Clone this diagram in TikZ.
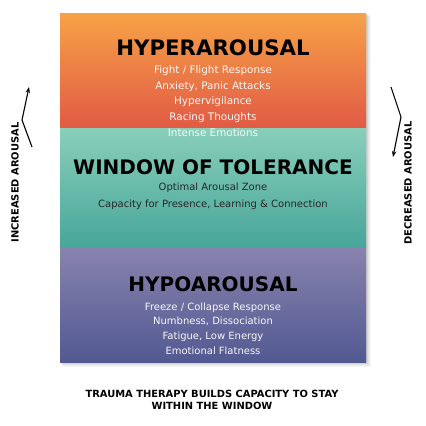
\documentclass[tikz,border=0pt]{standalone}
\usepackage{fontspec}
\setmainfont{DejaVu Sans}
\usetikzlibrary{arrows.meta}
\definecolor{hypertop}{HTML}{F7A247}
\definecolor{hyperbot}{HTML}{E15A45}
\definecolor{wintop}{HTML}{89CFBA}
\definecolor{winbot}{HTML}{48A69A}
\definecolor{hypotop}{HTML}{8983AE}
\definecolor{hypobot}{HTML}{525991}
\begin{document}
\begin{tikzpicture}[x=1pt,y=-1pt,
  band/.style={inner sep=0pt,outer sep=0pt,minimum width=306pt,draw=none},
  bigtitle/.style={inner sep=0pt,anchor=base,font=\fontsize{20}{24}\selectfont\bfseries,text=black},
  lightline/.style={inner sep=0pt,anchor=base,font=\fontsize{10}{12}\selectfont,text=white!94!gray},
  darkline/.style={inner sep=0pt,anchor=base,font=\fontsize{10}{12}\selectfont,text=black!85},
  sidelabel/.style={inner sep=0pt,font=\fontsize{9.9}{11}\selectfont\bfseries,text=black,rotate=90},
  bottomlabel/.style={inner sep=0pt,align=center,font=\fontsize{9.9}{11.7}\selectfont\bfseries,text=black},
  arrowline/.style={line width=1.1pt,-{Stealth[length=6pt,width=4.5pt]}}]
\useasboundingbox (0,0) rectangle (426,426);
% shadow
\foreach \d/\o in {1/0.06,2/0.06,3/0.05,4/0.04,5/0.03}{
  \fill[black,opacity=\o] (60+\d*0.6,13+\d*0.6) rectangle (366+\d,362+\d);
}
% bands
\node[band,minimum height=115pt,top color=hypertop,bottom color=hyperbot] (hyper) at (213,70.5) {};
\node[band,minimum height=119pt,top color=wintop,bottom color=winbot] (window) at (213,187.5) {};
\node[band,minimum height=115pt,top color=hypotop,bottom color=hypobot] (hypo) at (213,304.5) {};
% hyper texts
\node[bigtitle,font=\fontsize{21.3}{24}\selectfont\bfseries] (ht) at (213,55) {HYPERAROUSAL};
\node[lightline,font=\fontsize{10.4}{12}\selectfont] (h1) at (213,73.3) {Fight / Flight Response};
\node[lightline,font=\fontsize{10.4}{12}\selectfont] (h2) at (213,89.1) {Anxiety, Panic Attacks};
\node[lightline,font=\fontsize{10.4}{12}\selectfont] (h3) at (213,104.9) {Hypervigilance};
\node[lightline,font=\fontsize{10.4}{12}\selectfont] (h4) at (213,120.7) {Racing Thoughts};
\node[lightline,font=\fontsize{10.4}{12}\selectfont] (h5) at (213,136.5) {Intense Emotions};
% window texts
\node[bigtitle] (wt) at (213,174) {WINDOW OF TOLERANCE};
\node[darkline] (w1) at (213,190.6) {Optimal Arousal Zone};
\node[darkline] (w2) at (213,207.7) {Capacity for Presence, Learning \& Connection};
% hypo texts
\node[bigtitle] (pt) at (213,291.7) {HYPOAROUSAL};
\node[lightline] (p1) at (213,310) {Freeze / Collapse Response};
\node[lightline] (p2) at (213,324.7) {Numbness, Dissociation};
\node[lightline] (p3) at (213,339.4) {Fatigue, Low Energy};
\node[lightline] (p4) at (213,354.1) {Emotional Flatness};
% side labels
\node[sidelabel] (inc) at (15,182.5) {INCREASED AROUSAL};
\node[sidelabel] (dec) at (408,183) {DECREASED AROUSAL};
\coordinate (ia) at (32,147);
\coordinate (ib) at (22,120);
\coordinate (ic) at (29,87);
\draw[arrowline] (ia) -- (ib) -- (ic);
\coordinate (da) at (391,87);
\coordinate (db) at (401,117);
\coordinate (dc) at (393,157);
\draw[arrowline] (da) -- (db) -- (dc);
% bottom
\node[bottomlabel] (note) at (212,400) {TRAUMA THERAPY BUILDS CAPACITY TO STAY\\WITHIN THE WINDOW};
\end{tikzpicture}
\end{document}
